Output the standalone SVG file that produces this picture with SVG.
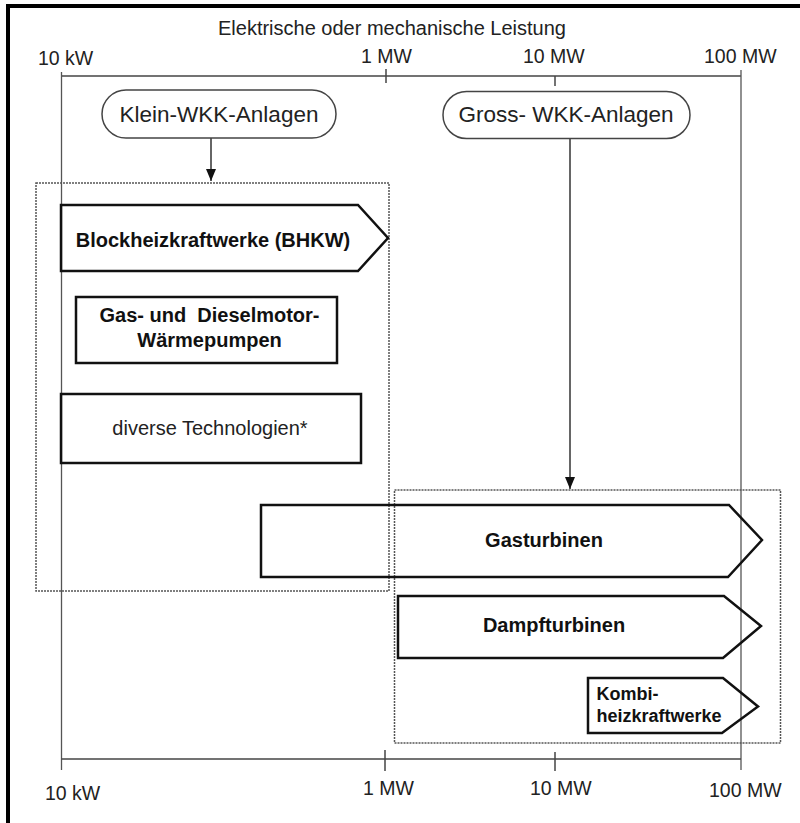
<svg xmlns="http://www.w3.org/2000/svg" width="800" height="823" viewBox="0 0 800 823">
<defs>
<style>
.bg{fill:#fff}
.frame{stroke:#000;stroke-width:4;fill:none}
.axis{stroke:#444;stroke-width:1.5;fill:none}
.vline{stroke:#555;stroke-width:1.3;fill:none}
.lbl{font-family:"Liberation Sans",Arial,sans-serif;font-size:19.5px;fill:#222}
.title{font-family:"Liberation Sans",Arial,sans-serif;font-size:20px;fill:#222}
.pill{fill:#fff;stroke:#444;stroke-width:1.5}
.pilltxt{font-family:"Liberation Sans",Arial,sans-serif;font-size:22.5px;fill:#222;text-anchor:middle}
.shape{fill:none;stroke:#111;stroke-width:2.5;stroke-linejoin:miter}
.btxt{font-family:"Liberation Sans",Arial,sans-serif;font-size:20px;font-weight:bold;fill:#111;text-anchor:middle;white-space:pre}
.rtxt{font-family:"Liberation Sans",Arial,sans-serif;font-size:20px;fill:#222;text-anchor:middle}
.dotted{fill:none;stroke:#555;stroke-width:1.5;stroke-dasharray:2 1}
.conn{stroke:#333;stroke-width:1.5;fill:none}
</style>
<marker id="arr" viewBox="0 0 12 10" refX="12" refY="5" markerWidth="12" markerHeight="10" markerUnits="userSpaceOnUse" orient="auto">
<path d="M0,0 L12,5 L0,10 Z" fill="#111"/>
</marker>
</defs>
<rect class="bg" x="0" y="0" width="800" height="823"/>
<g id="frame">
<line class="frame" x1="6" y1="6" x2="800" y2="6"/>
<line class="frame" x1="8" y1="4" x2="8" y2="823"/>
</g>
<g id="axes">
<text class="title" x="218" y="35">Elektrische oder mechanische Leistung</text>
<line class="axis" x1="61.5" y1="76" x2="741" y2="76"/>
<line class="axis" x1="386" y1="69" x2="386" y2="83"/>
<line class="axis" x1="555" y1="76" x2="555" y2="86"/>
<line class="vline" x1="61.5" y1="72" x2="61.5" y2="770"/>
<line class="vline" x1="741" y1="70" x2="741" y2="770"/>
<line class="axis" x1="61.5" y1="759" x2="741" y2="759"/>
<line class="axis" x1="385" y1="750" x2="385" y2="771"/>
<line class="axis" x1="555" y1="752" x2="555" y2="771"/>
<text class="lbl" x="38" y="65">10 kW</text>
<text class="lbl" x="361" y="63">1 MW</text>
<text class="lbl" x="523" y="63">10 MW</text>
<text class="lbl" x="704" y="63">100 MW</text>
<text class="lbl" x="45" y="800">10 kW</text>
<text class="lbl" x="363" y="795">1 MW</text>
<text class="lbl" x="530" y="795">10 MW</text>
<text class="lbl" x="709" y="797">100 MW</text>
</g>
<g id="connectors">
<line class="conn" x1="211" y1="138" x2="211" y2="181" marker-end="url(#arr)"/>
<line class="conn" x1="570" y1="138" x2="570" y2="489" marker-end="url(#arr)"/>
</g>
<g id="klein-wkk">
<rect class="pill" x="102" y="90" width="234" height="48" rx="24" ry="24"/>
<text class="pilltxt" x="219" y="122">Klein-WKK-Anlagen</text>
</g>
<g id="gross-wkk">
<rect class="pill" x="443" y="91.5" width="247" height="47" rx="23.5" ry="23.5"/>
<text class="pilltxt" x="566" y="122">Gross- WKK-Anlagen</text>
</g>
<g id="klein-group">
<rect class="dotted" x="36" y="183" width="353" height="408"/>
</g>
<g id="gross-group">
<rect class="dotted" x="394.5" y="490" width="386" height="253"/>
</g>
<g id="bhkw">
<polygon class="shape" points="61,205 358,205 388,238 358,271 61,271"/>
<text class="btxt" x="213" y="247">Blockheizkraftwerke (BHKW)</text>
</g>
<g id="waermepumpen">
<rect class="shape" x="76" y="297" width="261" height="66"/>
<text class="btxt" x="209.5" y="322">Gas- und  Dieselmotor-</text>
<text class="btxt" x="209.5" y="347">Wärmepumpen</text>
</g>
<g id="diverse">
<rect class="shape" x="61" y="394" width="300" height="69"/>
<text class="rtxt" x="210" y="435">diverse Technologien*</text>
</g>
<g id="gasturbinen">
<polygon class="shape" points="261,505 729,505 762,540 728,577 261,577"/>
<text class="btxt" x="544" y="547">Gasturbinen</text>
</g>
<g id="dampfturbinen">
<polygon class="shape" points="398,596 724,596 761,626 723,658 398,658"/>
<text class="btxt" x="554" y="632">Dampfturbinen</text>
</g>
<g id="kombi">
<polygon class="shape" points="588,678 723,678 758,706.5 722,733 588,733"/>
<text class="btxt" x="596.5" y="700" style="text-anchor:start;font-size:18px">Kombi-</text>
<text class="btxt" x="596.5" y="722" style="text-anchor:start;font-size:18px">heizkraftwerke</text>
</g>
</svg>
